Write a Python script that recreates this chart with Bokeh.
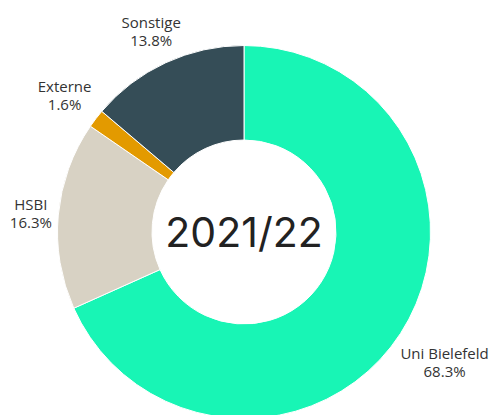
import math
from bokeh.plotting import figure
from bokeh.models import Range1d, ColumnDataSource
from bokeh.core.properties import value
from bokeh.embed import file_html
from bokeh.resources import INLINE

# ---- data ----
categories = ["Uni Bielefeld", "HSBI", "Externe", "Sonstige"]
shares = [68.3, 16.3, 1.6, 13.8]
colors = ["#18F5B5", "#D8D2C4", "#E39A00", "#354D57"]
center_title = "2021/22"

# ---- layout ----
W, H = 491, 415
cx, cy = 243.5, -231.5
r_out, r_in = 186.5, 92
label_r = [239, 214, 226, 221]

p = figure(width=W, height=H, output_backend="svg", toolbar_location=None,
           x_range=Range1d(0, W), y_range=Range1d(-H, 0),
           min_border=0, outline_line_color=None)
p.axis.visible = False
p.grid.visible = False

total = sum(shares)
starts, ends, mids = [], [], []
cum = 0.0
for s in shares:
    a0 = math.pi / 2 - cum / total * 2 * math.pi
    cum += s
    a1 = math.pi / 2 - cum / total * 2 * math.pi
    starts.append(a0)
    ends.append(a1)
    mids.append((a0 + a1) / 2)

src = ColumnDataSource(dict(start=starts, end=ends, color=colors))
p.annular_wedge(x=cx, y=cy, inner_radius=r_in, outer_radius=r_out,
                start_angle="start", end_angle="end", direction="clock",
                fill_color="color", line_color="white", line_width=1, source=src)

lx, ly1, ly2, t1, t2 = [], [], [], [], []
for c, s, m, r in zip(categories, shares, mids, label_r):
    x = cx + r * math.cos(m)
    y = cy + r * math.sin(m)
    lx.append(x)
    ly1.append(y + 9)
    ly2.append(y - 9)
    t1.append(c)
    t2.append(f"{s:.1f}%")

p.text(x=lx, y=ly1, text=t1, text_align="center", text_baseline="middle",
       text_font=value("Open Sans"), text_font_size="15px", text_color="#333333")
p.text(x=lx, y=ly2, text=t2, text_align="center", text_baseline="middle",
       text_font=value("Open Sans"), text_font_size="15px", text_color="#333333")

p.text(x=[cx], y=[cy], text=[center_title], text_align="center", text_baseline="middle",
       text_font=value("Inter"), text_font_size="41px", text_color="#222222")

open("out.html", "w").write(file_html(p, INLINE))
